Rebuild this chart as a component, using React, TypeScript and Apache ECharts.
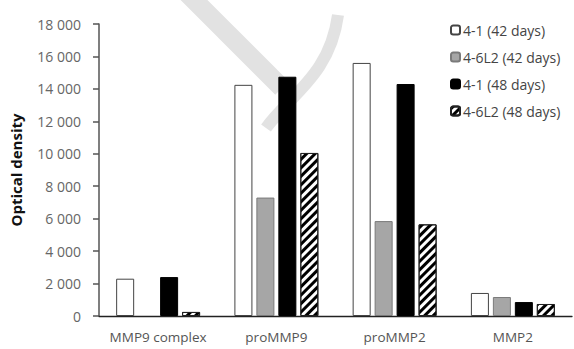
import React, { useEffect, useRef } from "react";
import * as echarts from "echarts";

const categories = ["MMP9 complex", "proMMP9", "proMMP2", "MMP2"];
const seriesNames = ["4-1 (42 days)", "4-6L2 (42 days)", "4-1 (48 days)", "4-6L2 (48 days)"];
const s41_42 = [2300, 14250, 15600, 1420];
const s46_42 = [null, 7300, 5850, 1170];
const s41_48 = [2400, 14750, 14300, 860];
const s46_48 = [250, 10050, 5650, 740];
const yTicks = { min: 0, max: 18000, interval: 2000 };

const FONT = "Open Sans";

function fmt(v: number) {
  return String(v).replace(/\B(?=(\d{3})+(?!\d))/g, " ");
}

export default function App() {
  const ref = useRef<HTMLDivElement>(null);
  useEffect(() => {
    const chart = echarts.init(ref.current!, null, { renderer: "svg" });
    const hatch = {
      symbol: "rect",
      symbolSize: 1,
      dashArrayX: [1, 0],
      dashArrayY: [3, 3],
      rotation: -Math.PI / 4,
      color: "#000",
      backgroundColor: "#fff",
    };
    chart.setOption({
      animation: false,
      backgroundColor: "#fff",
      textStyle: { fontFamily: FONT },
      graphic: [
        {
          type: "line",
          z: -10,
          shape: { x1: 186, y1: -8, x2: 282, y2: 88 },
          style: { stroke: "#e2e2e2", lineWidth: 19 },
        },
        {
          type: "bezierCurve",
          z: -10,
          shape: { x1: 338, y1: 15, cpx1: 330, cpy1: 75, cpx2: 290, cpy2: 95, x2: 266, y2: 128 },
          style: { stroke: "#e2e2e2", lineWidth: 12, fill: "none" },
        },
      ],
      grid: { left: 97, right: 2, top: 24, bottom: 33 },
      legend: {
        orient: "vertical",
        left: 445,
        top: 18,
        itemWidth: 9,
        itemHeight: 9,
        itemGap: 13,
        textStyle: { fontFamily: FONT, fontSize: 14, color: "#444", padding: [0, 0, 0, -2] },
        data: seriesNames,
      },
      xAxis: {
        type: "category",
        data: categories,
        axisLine: { lineStyle: { color: "#222", width: 1.3 } },
        axisTick: { show: false },
        axisLabel: { interval: 0, fontFamily: FONT, fontSize: 13.5, color: "#555", margin: 14 },
      },
      yAxis: {
        type: "value",
        min: yTicks.min,
        max: yTicks.max,
        interval: yTicks.interval,
        name: "Optical density",
        nameLocation: "middle",
        nameRotate: 90,
        nameGap: 76,
        nameTextStyle: { fontFamily: FONT, fontSize: 15, fontWeight: "bold", color: "#111" },
        axisLine: { show: true, lineStyle: { color: "#555", width: 1.5 } },
        axisTick: { show: true, length: 6, lineStyle: { color: "#555", width: 1.5 } },
        splitLine: { show: false },
        axisLabel: { fontFamily: FONT, fontSize: 14, color: "#666", margin: 18, formatter: fmt },
      },
      series: [
        {
          name: seriesNames[0],
          type: "bar",
          data: s41_42,
          barGap: "22%",
          barCategoryGap: "29%",
          itemStyle: { color: "#fff", borderColor: "#444", borderWidth: 1 },
        },
        {
          name: seriesNames[1],
          type: "bar",
          data: s46_42,
          itemStyle: { color: "#a6a6a6", borderColor: "#7a7a7a", borderWidth: 1 },
        },
        {
          name: seriesNames[2],
          type: "bar",
          data: s41_48,
          itemStyle: { color: "#000", borderColor: "#000", borderWidth: 1 },
        },
        {
          name: seriesNames[3],
          type: "bar",
          data: s46_48,
          itemStyle: { color: "#fff", borderColor: "#222", borderWidth: 1, decal: hatch },
        },
      ],
    });
    return () => chart.dispose();
  }, []);
  return <div ref={ref} style={{ width: 574, height: 349, position: "absolute", left: 0, top: 0 }} />;
}
